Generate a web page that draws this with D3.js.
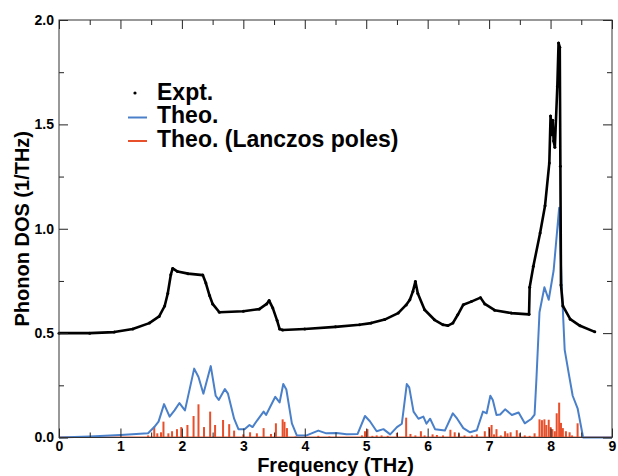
<!DOCTYPE html>
<html>
<head>
<meta charset="utf-8">
<script src="https://cdn.jsdelivr.net/npm/d3@7"></script>
<style>
  body { margin: 0; background: #fff; }
  svg text { font-family: "Liberation Sans", Arial, sans-serif; font-weight: bold; }
</style>
</head>
<body>
<script>
// experimental DOS (black dots)
let exptX = [0, 0.5, 0.9, 1.2, 1.47, 1.63, 1.72, 1.77, 1.82, 1.85, 1.93, 2.1, 2.34, 2.39, 2.45, 2.5, 2.61,
  3.0, 3.26, 3.38, 3.42, 3.48, 3.55, 3.59, 3.64, 4.0, 4.5, 4.89, 5.08, 5.3, 5.52, 5.65, 5.71, 5.76, 5.8,
  5.84, 5.95, 6.11, 6.25, 6.33, 6.41, 6.49, 6.58, 6.71, 6.86, 6.93, 7.09, 7.36, 7.65, 7.66, 7.72, 7.83,
  7.91, 7.98, 8.0, 8.02, 8.035, 8.05, 8.07, 8.11, 8.13, 8.15, 8.16, 8.17, 8.2, 8.32, 8.48, 8.72];
let exptY = [0.5, 0.5, 0.505, 0.52, 0.548, 0.58, 0.63, 0.69, 0.78, 0.81, 0.795, 0.785, 0.778, 0.74, 0.68, 0.64, 0.6,
  0.605, 0.615, 0.64, 0.656, 0.62, 0.56, 0.52, 0.515, 0.52, 0.53, 0.54, 0.548, 0.565, 0.596, 0.635, 0.66, 0.7, 0.747,
  0.69, 0.612, 0.564, 0.54, 0.536, 0.548, 0.588, 0.636, 0.651, 0.67, 0.64, 0.61, 0.596, 0.59, 0.72, 0.82, 0.98,
  1.11, 1.315, 1.54, 1.45, 1.52, 1.42, 1.39, 1.68, 1.89, 1.87, 1.3, 0.73, 0.63, 0.567, 0.535, 0.506];

// theoretical DOS (blue line)
let theoX = [0, 0.5, 1.0, 1.45, 1.55, 1.62, 1.71, 1.8, 1.88, 1.96, 2.05, 2.2, 2.27, 2.35, 2.47, 2.55, 2.6, 2.7, 2.75,
  2.85, 2.92, 3.02, 3.1, 3.15, 3.22, 3.33, 3.37, 3.52, 3.59, 3.65, 3.7, 3.79, 3.87, 4.03, 4.22, 4.35, 4.52, 4.68,
  4.86, 4.98, 5.06, 5.17, 5.28, 5.39, 5.5, 5.58, 5.66, 5.7, 5.77, 5.85, 5.93, 5.98, 6.04, 6.12, 6.28, 6.41, 6.48,
  6.58, 6.69, 6.8, 6.9, 6.96, 7.02, 7.06, 7.12, 7.18, 7.26, 7.37, 7.48, 7.58, 7.69, 7.74, 7.77, 7.82, 7.9, 7.97,
  8.05, 8.14, 8.18, 8.23, 8.3, 8.36, 8.44, 8.53, 9.0];
let theoY = [0, 0.005, 0.012, 0.02, 0.05, 0.076, 0.16, 0.1, 0.13, 0.165, 0.13, 0.33, 0.29, 0.21, 0.342, 0.2, 0.18, 0.232, 0.21,
  0.09, 0.04, 0.04, 0.06, 0.05, 0.08, 0.124, 0.108, 0.195, 0.168, 0.256, 0.23, 0.068, 0.01, 0.01, 0.033, 0.02, 0.022, 0.016,
  0.017, 0.103, 0.078, 0.03, 0.04, 0.015, 0.05, 0.066, 0.256, 0.24, 0.124, 0.09, 0.1, 0.066, 0.09, 0.04, 0.033, 0.116, 0.09,
  0.045, 0.025, 0.035, 0.124, 0.116, 0.2, 0.18, 0.108, 0.11, 0.135, 0.108, 0.12, 0.068, 0.09, 0.11, 0.28, 0.6, 0.72, 0.66,
  0.8, 1.1, 0.74, 0.42, 0.3, 0.2, 0.14, 0.0, 0.0];

// Lanczos poles (red sticks)
let poleX = [1.45, 1.55, 1.6, 1.66, 1.7, 1.78, 1.84, 1.92, 1.99, 2.09, 2.19, 2.27, 2.36, 2.46, 2.54, 2.67, 2.77, 2.85,
  3.0, 3.11, 3.22, 3.33, 3.45, 3.53, 3.64, 3.67, 3.71, 3.85, 4.22, 4.4, 4.93, 4.98, 5.02, 5.1, 5.17, 5.25, 5.35, 5.5,
  5.65, 5.72, 5.8, 5.89, 5.95, 6.08, 6.15, 6.25, 6.37, 6.44, 6.51, 6.6, 6.72, 6.8, 6.93, 7.0, 7.04, 7.08, 7.12, 7.19,
  7.26, 7.3, 7.35, 7.45, 7.5, 7.58, 7.66, 7.74, 7.82, 7.86, 7.9, 7.93, 7.97, 8.0, 8.03, 8.07, 8.1, 8.14, 8.17, 8.2,
  8.25, 8.31, 8.35, 8.44];
let poleY = [0.01, 0.052, 0.02, 0.025, 0.076, 0.02, 0.03, 0.04, 0.05, 0.06, 0.103, 0.159, 0.05, 0.124, 0.06, 0.084, 0.064, 0.033,
  0.015, 0.025, 0.02, 0.045, 0.017, 0.068, 0.087, 0.075, 0.045, 0.005, 0.008, 0.005, 0.01, 0.03, 0.04, 0.008, 0.01, 0.01, 0.008, 0.022,
  0.095, 0.017, 0.01, 0.03, 0.01, 0.015, 0.012, 0.01, 0.037, 0.025, 0.02, 0.01, 0.01, 0.015, 0.03, 0.05, 0.06, 0.015, 0.04, 0.01,
  0.03, 0.02, 0.025, 0.035, 0.02, 0.01, 0.008, 0.02, 0.087, 0.083, 0.087, 0.06, 0.085, 0.05, 0.04, 0.03, 0.116, 0.167, 0.07, 0.045,
  0.03, 0.025, 0.01, 0.068];

let xMajor = [0, 1, 2, 3, 4, 5, 6, 7, 8, 9];
let xMinor = [0.5, 1.5, 2.5, 3.5, 4.5, 5.5, 6.5, 7.5, 8.5];
let yMajor = [0, 0.5, 1.0, 1.5, 2.0];
let yMinor = [0.25, 0.75, 1.25, 1.75];

let legendNames = ["Expt.", "Theo.", "Theo. (Lanczos poles)"];

let width = 618, height = 476;
let mLeft = 59, mRight = 612, mTop = 20, mBottom = 437.5;
let blue = "#4a80c9", red = "#e8502c";

let svg = d3.select("body").append("svg")
  .attr("width", width)
  .attr("height", height);

let x = d3.scaleLinear().domain([0, 9]).range([mLeft, mRight]);
let y = d3.scaleLinear().domain([0, 2]).range([mBottom, mTop]);

// red sticks
svg.selectAll("rect.pole")
  .data(poleX.map((v, i) => [v, poleY[i]]))
  .enter().append("rect")
  .attr("class", "pole")
  .attr("x", d => x(d[0]) - 1)
  .attr("y", d => y(d[1]))
  .attr("width", 2)
  .attr("height", d => y(0) - y(d[1]))
  .style("fill", red);

svg.append("line")
  .attr("x1", x(0)).attr("x2", x(9))
  .attr("y1", y(0) - 0.5).attr("y2", y(0) - 0.5)
  .style("stroke", red).style("stroke-width", 1);

// blue line
let line = d3.line().x(d => x(d[0])).y(d => y(d[1]));
svg.append("path")
  .datum(theoX.map((v, i) => [v, theoY[i]]))
  .attr("d", line)
  .style("fill", "none")
  .style("stroke", blue)
  .style("stroke-width", 2)
  .style("stroke-linejoin", "round");

// black expt
let expt = exptX.map((v, i) => [v, exptY[i]]);
svg.append("path")
  .datum(expt)
  .attr("d", line)
  .style("fill", "none")
  .style("stroke", "#000")
  .style("stroke-width", 2.6)
  .style("stroke-linejoin", "round");

svg.selectAll("circle.expt")
  .data(expt)
  .enter().append("circle")
  .attr("class", "expt")
  .attr("cx", d => x(d[0]))
  .attr("cy", d => y(d[1]))
  .attr("r", 1.5)
  .style("fill", "#000");

// axes with inward ticks
function styleAxis(g) {
  g.select(".domain").remove();
  g.selectAll("line").style("stroke", "#222");
  g.selectAll("text").style("font-size", "14px").style("fill", "#000");
}

svg.append("g").attr("transform", `translate(0,${mBottom})`)
  .call(d3.axisBottom(x).tickValues(xMajor).tickSize(-9).tickPadding(4).tickFormat(d3.format("d")))
  .call(styleAxis);
svg.append("g").attr("transform", `translate(0,${mBottom})`)
  .call(d3.axisBottom(x).tickValues(xMinor).tickSize(-5).tickFormat(""))
  .call(styleAxis);
svg.append("g").attr("transform", `translate(0,${mTop})`)
  .call(d3.axisTop(x).tickValues(xMajor).tickSize(-9).tickFormat(""))
  .call(styleAxis);
svg.append("g").attr("transform", `translate(0,${mTop})`)
  .call(d3.axisTop(x).tickValues(xMinor).tickSize(-5).tickFormat(""))
  .call(styleAxis);

svg.append("g").attr("transform", `translate(${mLeft},0)`)
  .call(d3.axisLeft(y).tickValues(yMajor).tickSize(-9).tickPadding(5).tickFormat(d3.format(".1f")))
  .call(styleAxis);
svg.append("g").attr("transform", `translate(${mLeft},0)`)
  .call(d3.axisLeft(y).tickValues(yMinor).tickSize(-5).tickFormat(""))
  .call(styleAxis);
svg.append("g").attr("transform", `translate(${mRight},0)`)
  .call(d3.axisRight(y).tickValues(yMajor).tickSize(-9).tickFormat(""))
  .call(styleAxis);
svg.append("g").attr("transform", `translate(${mRight},0)`)
  .call(d3.axisRight(y).tickValues(yMinor).tickSize(-5).tickFormat(""))
  .call(styleAxis);

svg.append("rect")
  .attr("x", mLeft).attr("y", mTop)
  .attr("width", mRight - mLeft).attr("height", mBottom - mTop)
  .style("fill", "none").style("stroke", "#333").style("stroke-width", 1);

// axis titles
svg.append("text")
  .attr("x", (mLeft + mRight) / 2).attr("y", 472)
  .attr("text-anchor", "middle")
  .style("font-size", "20px")
  .text("Frequency (THz)");

svg.append("text")
  .attr("transform", `translate(29,${(mTop + mBottom) / 2}) rotate(-90)`)
  .attr("text-anchor", "middle")
  .style("font-size", "20px")
  .text("Phonon DOS (1/THz)");

// legend
let lg = svg.append("g");
lg.append("circle").attr("cx", 135).attr("cy", 93).attr("r", 1.6).style("fill", "#000");
lg.append("line").attr("x1", 128).attr("x2", 147).attr("y1", 117.5).attr("y2", 117.5)
  .style("stroke", blue).style("stroke-width", 2);
lg.append("line").attr("x1", 128).attr("x2", 147).attr("y1", 141).attr("y2", 141)
  .style("stroke", red).style("stroke-width", 2);
lg.selectAll("text")
  .data(legendNames)
  .enter().append("text")
  .attr("x", 157)
  .attr("y", (d, i) => 99.5 + i * 23.5)
  .style("font-size", "23px")
  .text(d => d);
</script>
</body>
</html>
